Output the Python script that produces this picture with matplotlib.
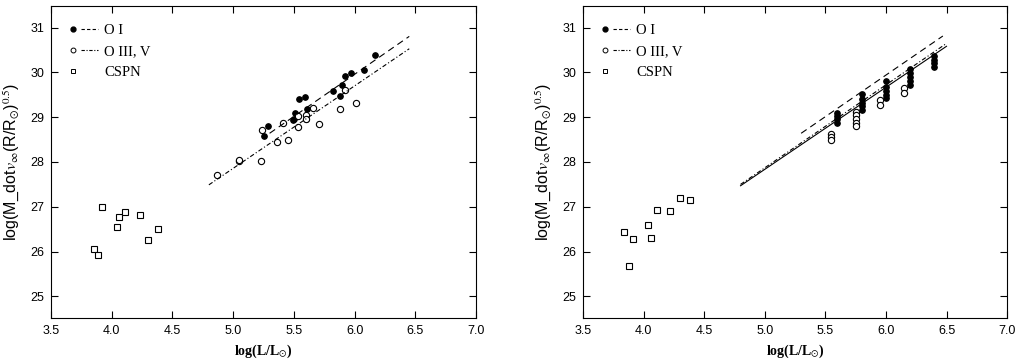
import numpy as np
import matplotlib
matplotlib.use('Agg')
import matplotlib.pyplot as plt
from matplotlib.lines import Line2D
from matplotlib.legend_handler import HandlerTuple

plt.rcParams['font.family'] = ['Liberation Sans', 'DejaVu Sans']
plt.rcParams['mathtext.fontset'] = 'stix'

# ---- linke Tafel ----
oi_x_l = [6.17, 6.08, 5.97, 5.92, 5.90, 5.88, 5.82, 5.59, 5.54, 5.51, 5.61, 5.49, 5.50, 5.29, 5.25, 5.60]
oi_y_l = [30.38, 30.06, 29.98, 29.91, 29.72, 29.47, 29.58, 29.46, 29.41, 29.09, 29.19, 28.94, 28.97, 28.81, 28.58, 28.97]

o35_x_l = [4.87, 5.05, 5.05, 5.23, 5.24, 5.36, 5.45, 5.41, 5.53, 5.53, 5.60, 5.60, 5.66, 5.71, 5.88, 5.92, 6.01]
o35_y_l = [27.70, 28.03, 28.04, 28.02, 28.71, 28.44, 28.49, 28.87, 28.77, 29.02, 29.05, 28.95, 29.21, 28.84, 29.19, 29.61, 29.32]

cspn_x_l = [3.85, 3.89, 3.92, 4.04, 4.06, 4.11, 4.23, 4.30, 4.38]
cspn_y_l = [26.06, 25.93, 26.99, 26.55, 26.78, 26.88, 26.82, 26.26, 26.50]

# Fits (Steigung, Achsenabschnitt, x-Bereich)
fit_oi_l = (1.88, 18.676, (5.30, 6.45))
fit_o35_l = (1.84, 18.658, (4.80, 6.45))

# ---- rechte Tafel ----
oi_x_r = [5.60, 5.60, 5.60, 5.60,
          5.80, 5.80, 5.80, 5.80, 5.80,
          6.00, 6.00, 6.00, 6.00, 6.00,
          6.20, 6.20, 6.20, 6.20, 6.20,
          6.40, 6.40, 6.40, 6.40]
oi_y_r = [29.10, 29.02, 28.95, 28.88,
          29.52, 29.40, 29.32, 29.25, 29.16,
          29.80, 29.68, 29.58, 29.50, 29.42,
          30.08, 29.98, 29.90, 29.80, 29.72,
          30.36, 30.28, 30.20, 30.13]

o35_x_r = [5.55, 5.55, 5.55,
           5.75, 5.75, 5.75, 5.75, 5.75,
           5.95, 5.95,
           6.15, 6.15]
o35_y_r = [28.62, 28.56, 28.50,
           29.12, 29.04, 28.96, 28.88, 28.80,
           29.38, 29.27,
           29.65, 29.54]

cspn_x_r = [3.84, 3.91, 3.88, 4.04, 4.06, 4.11, 4.22, 4.30, 4.38]
cspn_y_r = [26.43, 26.28, 25.68, 26.60, 26.30, 26.94, 26.91, 27.20, 27.16]

fit_oi_r = (1.855, 18.8085, (5.30, 6.47))
fit_o35_r = (1.85, 18.62, (4.80, 6.50))
fit_all_r = (1.83, 18.686, (4.80, 6.50))

x_ticks = [3.5, 4.0, 4.5, 5.0, 5.5, 6.0, 6.5, 7.0]
y_ticks = [25, 26, 27, 28, 29, 30, 31]

DASH = (0, (6, 4))
DASHDOT = (0, (4, 2, 1, 2))


def fitlinie(ax, fit, **kw):
    m, b, (x0, x1) = fit
    xx = np.array([x0, x1])
    ax.plot(xx, m * xx + b, color='black', lw=0.8, **kw)


def tafel(ax, oi_x, oi_y, o35_x, o35_y, cs_x, cs_y, fits):
    ax.plot(oi_x, oi_y, 'o', ms=4, mfc='black', mec='black', mew=0.8)
    ax.plot(o35_x, o35_y, 'o', ms=4.5, mfc='white', mec='black', mew=0.8)
    ax.plot(cs_x, cs_y, 's', ms=4.5, mfc='white', mec='black', mew=0.8)
    for fit, ls in fits:
        fitlinie(ax, fit, ls=ls)

    ax.set_xlim(3.5, 7.0)
    ax.set_ylim(24.52, 31.48)
    ax.set_xticks(x_ticks)
    ax.set_xticklabels(['%.1f' % t for t in x_ticks])
    ax.set_yticks(y_ticks)
    ax.tick_params(direction='in', length=5, width=0.8, top=True, right=True,
                   labelsize=9, pad=5)
    for s in ax.spines.values():
        s.set_linewidth(0.8)
    ax.set_xlabel(r'log(L/L$_{\odot}$)', family='Liberation Serif', fontsize=10,
                  fontweight='bold')
    ax.xaxis.set_label_coords(0.5, -0.078)
    ax.set_ylabel(r'log(M_dot$v_{\infty}$(R/R$_{\odot}$)$^{0.5}$)', fontsize=11.5)
    ax.yaxis.set_label_coords(-0.07, 0.5)

    h_oi = (Line2D([], [], ls='none', marker='o', ms=3.5, mfc='black', mec='black'),
            Line2D([], [], color='black', lw=0.8, ls=(0, (3, 2))))
    h_o35 = (Line2D([], [], ls='none', marker='o', ms=3.5, mfc='white', mec='black', mew=0.7),
             Line2D([], [], color='black', lw=0.8, ls=(0, (3, 1.5, 1, 1.5))))
    h_cs = (Line2D([], [], ls='none', marker='s', ms=3.5, mfc='white', mec='black', mew=0.7),
            Line2D([], [], ls='none'))
    ax.legend([h_oi, h_o35, h_cs], ['O I', 'O III, V', 'CSPN'],
              handler_map={tuple: HandlerTuple(ndivide=None, pad=0.0)},
              loc='upper left', bbox_to_anchor=(0.0, 0.985), frameon=False,
              handlelength=2.3, handletextpad=0.45, labelspacing=0.55,
              prop={'family': 'Liberation Serif', 'size': 10.5}, borderaxespad=0.5)


fig = plt.figure(figsize=(10.22, 3.63), dpi=100)
ax1 = fig.add_axes([0.0499, 0.124, 0.4159, 0.8595])
ax2 = fig.add_axes([0.5705, 0.124, 0.4149, 0.8595])

tafel(ax1, oi_x_l, oi_y_l, o35_x_l, o35_y_l, cspn_x_l, cspn_y_l,
      [(fit_oi_l, DASH), (fit_o35_l, DASHDOT)])
tafel(ax2, oi_x_r, oi_y_r, o35_x_r, o35_y_r, cspn_x_r, cspn_y_r,
      [(fit_oi_r, DASH), (fit_o35_r, DASHDOT), (fit_all_r, '-')])

fig.savefig('out.png', dpi=100)
